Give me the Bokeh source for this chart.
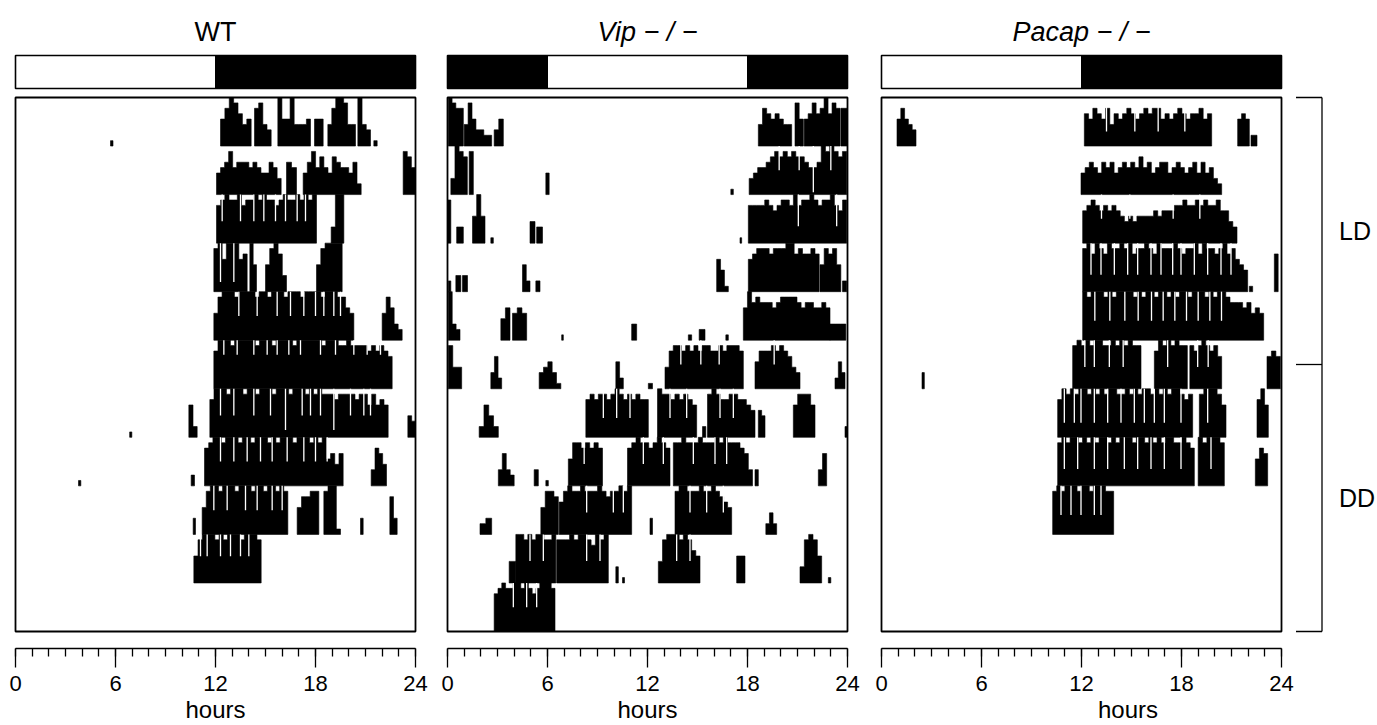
from bokeh.plotting import figure
from bokeh.layouts import row
from bokeh.models import Range1d, FixedTicker
from bokeh.core.properties import value
from bokeh.embed import file_html
from bokeh.resources import INLINE

FONT = "Liberation Sans"

# ---------------- data ----------------
panel_titles = ["WT", "Vip − / −", "Pacap − / −"]
title_styles = ["normal", "italic", "italic"]
dark_phases = [[(12, 24)], [(0, 6), (18, 24)], [(12, 24)]]
hour_ticks = [0, 6, 12, 18, 24]
hour_minor = list(range(25))
n_rows = 11
phase_labels = ["LD", "DD"]
phase_bounds = [0, 5.5, 11]

# each row: list of activity bouts (start hour, end hour, bin heights 0-9 as fraction of row height)
wt_rows = [
    [(5.70, 5.85, "1"), (12.30, 14.14, "5798645"), (14.34, 15.34, "7843"), (15.74, 17.70, "95594445"),
     (17.94, 18.46, "55"), (18.74, 20.40, "4799844"), (20.54, 21.30, "943"), (21.50, 21.70, "1")],
    [(12.06, 15.94, "4568566656544653"), (16.26, 16.86, "65"), (17.26, 20.74, "46857547655462"),
     (23.26, 24.00, "875")],
    [(12.06, 18.06, "789889788989887898898989"), (18.94, 19.70, "399")],
    [(11.90, 13.90, "89699967"), (14.06, 14.46, "95"), (15.00, 16.26, "58973"), (18.06, 19.60, "589999")],
    [(11.90, 20.30, "5899989999899899989998999989998865"), (22.00, 23.20, "58632")],
    [(11.90, 22.60, "7999899999899989999899999989998898888787876")],
    [(6.85, 6.98, "1"), (10.40, 10.90, "62"), (11.66, 22.36, "7999899989989998999899989898887888878868676"),
     (23.54, 24.00, "43")],
    [(3.78, 3.92, "1"), (10.54, 10.74, "2"), (11.34, 19.66, "789989998998999898999899989895646"),
     (21.34, 22.26, "3764")],
    [(10.66, 10.80, "3"), (11.20, 16.34, "589989998999899899898"), (16.90, 18.20, "57788"),
     (18.50, 19.50, "8991"), (20.70, 20.86, "3"), (22.46, 22.90, "73")],
    [(10.70, 14.74, "5899989899989998")],
]

vip_rows = [
    [(0.05, 0.95, "9877"), (1.00, 2.65, "4853322"), (2.80, 3.35, "35"), (18.65, 20.65, "47656544"),
     (20.85, 21.35, "85"), (21.40, 23.55, "568679687"), (23.60, 24.00, "77")],
    [(0.20, 1.19, "3987"), (1.30, 1.55, "8"), (5.90, 6.10, "4"), (17.00, 17.15, "1"),
     (18.10, 23.95, "34556787878776556989878")],
    [(0.00, 0.20, "8"), (0.55, 0.95, "3"), (1.50, 2.25, "595"), (2.60, 2.75, "1"), (4.95, 5.25, "4"),
     (5.35, 5.70, "3"), (17.55, 17.65, "1"), (18.05, 23.95, "777787678879788987889768")],
    [(0.05, 0.20, "2"), (0.50, 0.80, "3"), (0.90, 1.20, "3"), (4.50, 4.95, "52"), (5.30, 5.55, "2"),
     (16.15, 16.85, "641"), (18.05, 22.30, "67888788899787787"), (22.35, 23.60, "58785"), (23.70, 23.95, "2")],
    [(0.05, 0.75, "932"), (3.20, 3.75, "46"), (3.90, 4.75, "565"), (6.85, 6.95, "1"), (11.05, 11.35, "3"),
     (14.45, 14.65, "1"), (15.10, 15.45, "2"), (16.70, 16.85, "1"), (17.75, 22.95, "697877767888876776676"),
     (22.95, 23.90, "333")],
    [(0.05, 0.85, "844"), (2.60, 3.25, "362"), (5.50, 6.80, "34531"), (10.10, 10.55, "52"), (12.05, 12.30, "1"),
     (13.05, 17.75, "4788787878877878887"), (18.45, 21.15, "57778787643"), (23.25, 23.85, "253")],
    [(1.90, 3.05, "2642"), (8.30, 12.05, "787887898787877"), (12.60, 14.95, "988787876"), (15.30, 15.50, "2"),
     (15.60, 18.45, "89877887765"), (18.65, 19.05, "54"), (20.75, 22.05, "68886"), (23.85, 24.00, "2")],
    [(3.05, 4.00, "3632"), (5.20, 5.45, "3"), (5.90, 6.05, "1"), (7.25, 9.30, "58878787"),
     (10.80, 13.35, "7898878987"), (13.55, 18.30, "8898889888989888763"), (18.45, 18.65, "3"), (22.25, 22.75, "36")],
    [(1.95, 2.65, "23"), (5.60, 6.65, "5887"), (6.70, 11.05, "68988988898788989"), (12.15, 12.30, "3"),
     (13.65, 17.05, "89988898898765"), (19.10, 19.75, "242")],
    [(3.70, 4.10, "4"), (4.10, 6.50, "9989899889"), (6.55, 9.65, "888989987989"), (10.10, 10.25, "3"),
     (10.50, 10.62, "1"), (12.65, 15.15, "4899989865"), (17.35, 17.85, "55"), (21.15, 22.45, "38985"),
     (22.85, 23.00, "1")],
    [(2.80, 6.45, "7898899898789998")],
]

pacap_rows = [
    [(0.93, 2.07, "57543"), (12.17, 19.81, "657657465676567677565676566756"), (21.37, 22.07, "565"),
     (22.17, 22.53, "2")],
    [(11.97, 20.41, "4565465645656575645664565456464532")],
    [(12.07, 21.33, "6787676765" "4545555656" "6677877878778" "6643")],
    [(12.07, 21.97, "8979879889" "8978898798" "8898788979" "8878978654"), (22.07, 22.27, "1"), (23.57, 23.80, "7")],
    [(12.07, 22.93, "98999898999989899899898998999898998" "77767565")],
    [(2.43, 2.57, "3"), (11.47, 15.57, "8989899889898988"), (16.37, 18.35, "79898988"),
     (18.50, 20.41, "87898786"), (23.13, 23.93, "676")],
    [(10.57, 18.67, "79898998989899889898998989899878"), (19.07, 20.67, "899986"), (22.53, 23.21, "796")],
    [(10.57, 18.77, "898998989899898999899898989988987"), (19.00, 20.57, "989998"), (22.43, 23.17, "576")],
    [(10.27, 13.93, "898999899899988")],
]

# thin empty bins inside bouts: (row, level left standing as fraction of row height, hours)
wt_gaps = [
    (3, 0.45, [12.4, 13.5, 14.3, 14.9, 15.6, 16.2, 16.9, 17.4]),
    (4, 0.2, [12.3, 13.1]),
    (5, 0.5, [13.4, 14.5, 15.7, 16.5, 17.3, 18.0, 18.5, 19.1, 19.5]),
    (6, 0.7, [12.5, 13.3, 14.3, 15.1, 15.7, 16.4, 17.1, 18.3, 19.2, 20.3, 21.1, 21.9]),
    (7, 0.45, [12.3, 13.1, 14.3, 15.3, 17.2, 17.7, 18.3, 20.1, 20.9, 21.3]),
    (7, 0.15, [16.2, 19.1]),
    (8, 0.5, [12.3, 13.1, 13.9, 14.7, 15.4, 16.3, 17.3, 18.0, 18.7]),
    (9, 0.5, [11.9, 12.7, 13.8, 14.5, 15.4, 16.0]),
    (10, 0.55, [11.1, 11.5, 12.3, 12.9, 13.5, 14.0]),
]
vip_gaps = [
    (2, 0.05, [21.95]),
    (2, 0.5, [19.9, 21.1, 23.0]),
    (3, 0.35, [21.05, 23.35]),
    (6, 0.5, [14.0, 15.2, 16.3, 19.6]),
    (7, 0.4, [9.35, 10.15, 10.95, 13.35, 14.35, 16.35, 17.15]),
    (8, 0.45, [8.2, 11.75, 12.95, 14.75, 16.05, 16.75]),
    (9, 0.45, [8.35, 9.95, 10.55, 14.55, 15.55, 16.55]),
    (10, 0.45, [4.95, 5.75, 8.35, 9.15, 13.75, 14.55]),
    (11, 0.5, [3.95, 4.75, 5.35]),
]
pacap_gaps = [
    (1, 0.3, [13.5, 15.2, 16.6, 18.2]),
    (3, 0.5, [13.2, 14.9, 17.5, 19.1]),
    (4, 0.35, [12.57, 13.17, 13.97, 14.77, 15.37, 16.17, 16.77, 17.47, 17.97, 18.77, 19.57, 20.37, 20.97]),
    (5, 0.4, [12.8, 13.7, 14.6, 15.4, 16.2, 16.9, 17.6, 18.3, 19.0, 19.7, 20.4]),
    (6, 0.45, [12.2, 12.77, 13.67, 14.5, 17.17, 18.97, 19.6]),
    (7, 0.3, [10.97, 11.57, 11.97, 12.77, 13.57, 14.37, 15.17, 15.77, 16.37, 16.97, 17.97, 19.57]),
    (8, 0.35, [10.97, 11.77, 12.77, 13.57, 14.57, 15.37, 16.17, 16.97, 17.97, 19.77]),
    (9, 0.4, [10.77, 11.37, 11.97, 12.77, 13.17]),
]

all_rows = [wt_rows, vip_rows, pacap_rows]
all_gaps = [wt_gaps, vip_gaps, pacap_gaps]

# ---------------- layout constants ----------------
PXH = 400 / 24.0           # pixels per hour
X0 = -0.12
Y_BOTTOM, Y_TOP = 11.35, -1.998
FIG_H = 725


def bout_polys(rows):
    xs, ys = [], []
    for r, bouts in enumerate(rows, start=1):
        for start, end, digits in bouts:
            n = len(digits)
            w = (end - start) / n
            px, py = [start], [r]
            for i, ch in enumerate(digits):
                top = r - int(ch) / 9.0
                px += [start + i * w, start + (i + 1) * w]
                py += [top, top]
            px.append(end)
            py.append(r)
            xs.append(px)
            ys.append(py)
    return xs, ys


def gap_segments(gaps):
    x, y0, y1 = [], [], []
    for r, level, hours in gaps:
        for h in hours:
            x.append(h)
            y0.append(r - 1)
            y1.append(r - level)
    return x, y0, y1


def make_panel(idx, x_end, mb_left, mb_right, bracket=False):
    frame_w = int(round((x_end - X0) * PXH))
    p = figure(width=mb_left + frame_w + mb_right, height=FIG_H,
               x_range=Range1d(X0, x_end), y_range=Range1d(Y_BOTTOM, Y_TOP),
               output_backend="svg", toolbar_location=None, y_axis_location=None,
               min_border_left=mb_left, min_border_right=mb_right,
               min_border_top=0, min_border_bottom=FIG_H - 648)
    p.grid.visible = False
    p.outline_line_color = None
    p.background_fill_color = "white"
    p.border_fill_color = "white"

    # title
    p.text(x=[12], y=[-1.34], text=[panel_titles[idx]], text_font=value(FONT),
           text_font_size="27px", text_font_style=title_styles[idx],
           text_align="center", text_baseline="alphabetic", text_color="black")

    # light/dark bar
    p.quad(left=[0], right=[24], top=[-0.865], bottom=[-0.185],
           fill_color="white", line_color=None)
    dl = [a for a, b in dark_phases[idx]]
    dr = [b for a, b in dark_phases[idx]]
    p.quad(left=dl, right=dr, top=[-0.865] * len(dl), bottom=[-0.185] * len(dl),
           fill_color="black", line_color="black", line_width=1)
    p.quad(left=[0], right=[24], top=[-0.865], bottom=[-0.185],
           fill_color=None, line_color="black", line_width=1.6)

    # activity
    xs, ys = bout_polys(all_rows[idx])
    p.patches(xs=xs, ys=ys, fill_color="black", line_color="black", line_width=0.6)
    gx, gy0, gy1 = gap_segments(all_gaps[idx])
    p.segment(x0=gx, y0=gy0, x1=gx, y1=gy1, line_color="white", line_width=1.3)

    # box
    p.quad(left=[0], right=[24], top=[0], bottom=[n_rows],
           fill_color=None, line_color="black", line_width=1.8)

    # axis
    ax = p.xaxis[0]
    ax.ticker = FixedTicker(ticks=hour_ticks, minor_ticks=hour_minor)
    ax.bounds = (0, 24)
    ax.major_tick_out = 19
    ax.major_tick_in = 0
    ax.minor_tick_out = 8
    ax.minor_tick_in = 0
    ax.axis_line_width = 1.3
    ax.major_tick_line_width = 1.3
    ax.minor_tick_line_width = 1.3
    ax.axis_line_color = "black"
    ax.major_tick_line_color = "black"
    ax.minor_tick_line_color = "black"
    ax.major_label_text_font = FONT
    ax.major_label_text_font_size = "22px"
    ax.major_label_text_color = "black"
    ax.major_label_standoff = 8
    ax.axis_label = "hours"
    ax.axis_label_text_font = FONT
    ax.axis_label_text_font_size = "24px"
    ax.axis_label_text_font_style = "normal"
    ax.axis_label_text_color = "black"
    ax.axis_label_standoff = 2

    if bracket:
        xb, xt = 26.43, 24.87
        p.segment(x0=[xb], y0=[phase_bounds[0]], x1=[xb], y1=[phase_bounds[-1]],
                  line_color="black", line_width=1.3)
        p.segment(x0=[xt] * 3, y0=phase_bounds, x1=[xb] * 3, y1=phase_bounds,
                  line_color="black", line_width=1.3)
        mids = [(phase_bounds[0] + phase_bounds[1]) / 2, (phase_bounds[1] + phase_bounds[2]) / 2]
        p.text(x=[27.45, 27.45], y=mids, text=phase_labels, text_font=value(FONT),
               text_font_size="25px", text_align="left", text_baseline="middle",
               text_color="black")
    return p


p1 = make_panel(0, 24.12, 13, 14)
p2 = make_panel(1, 24.12, 14, 15)
p3 = make_panel(2, X0 + 497 / PXH, 15, 0, bracket=True)

layout = row(p1, p2, p3)
open("out.html", "w").write(file_html(layout, INLINE))
